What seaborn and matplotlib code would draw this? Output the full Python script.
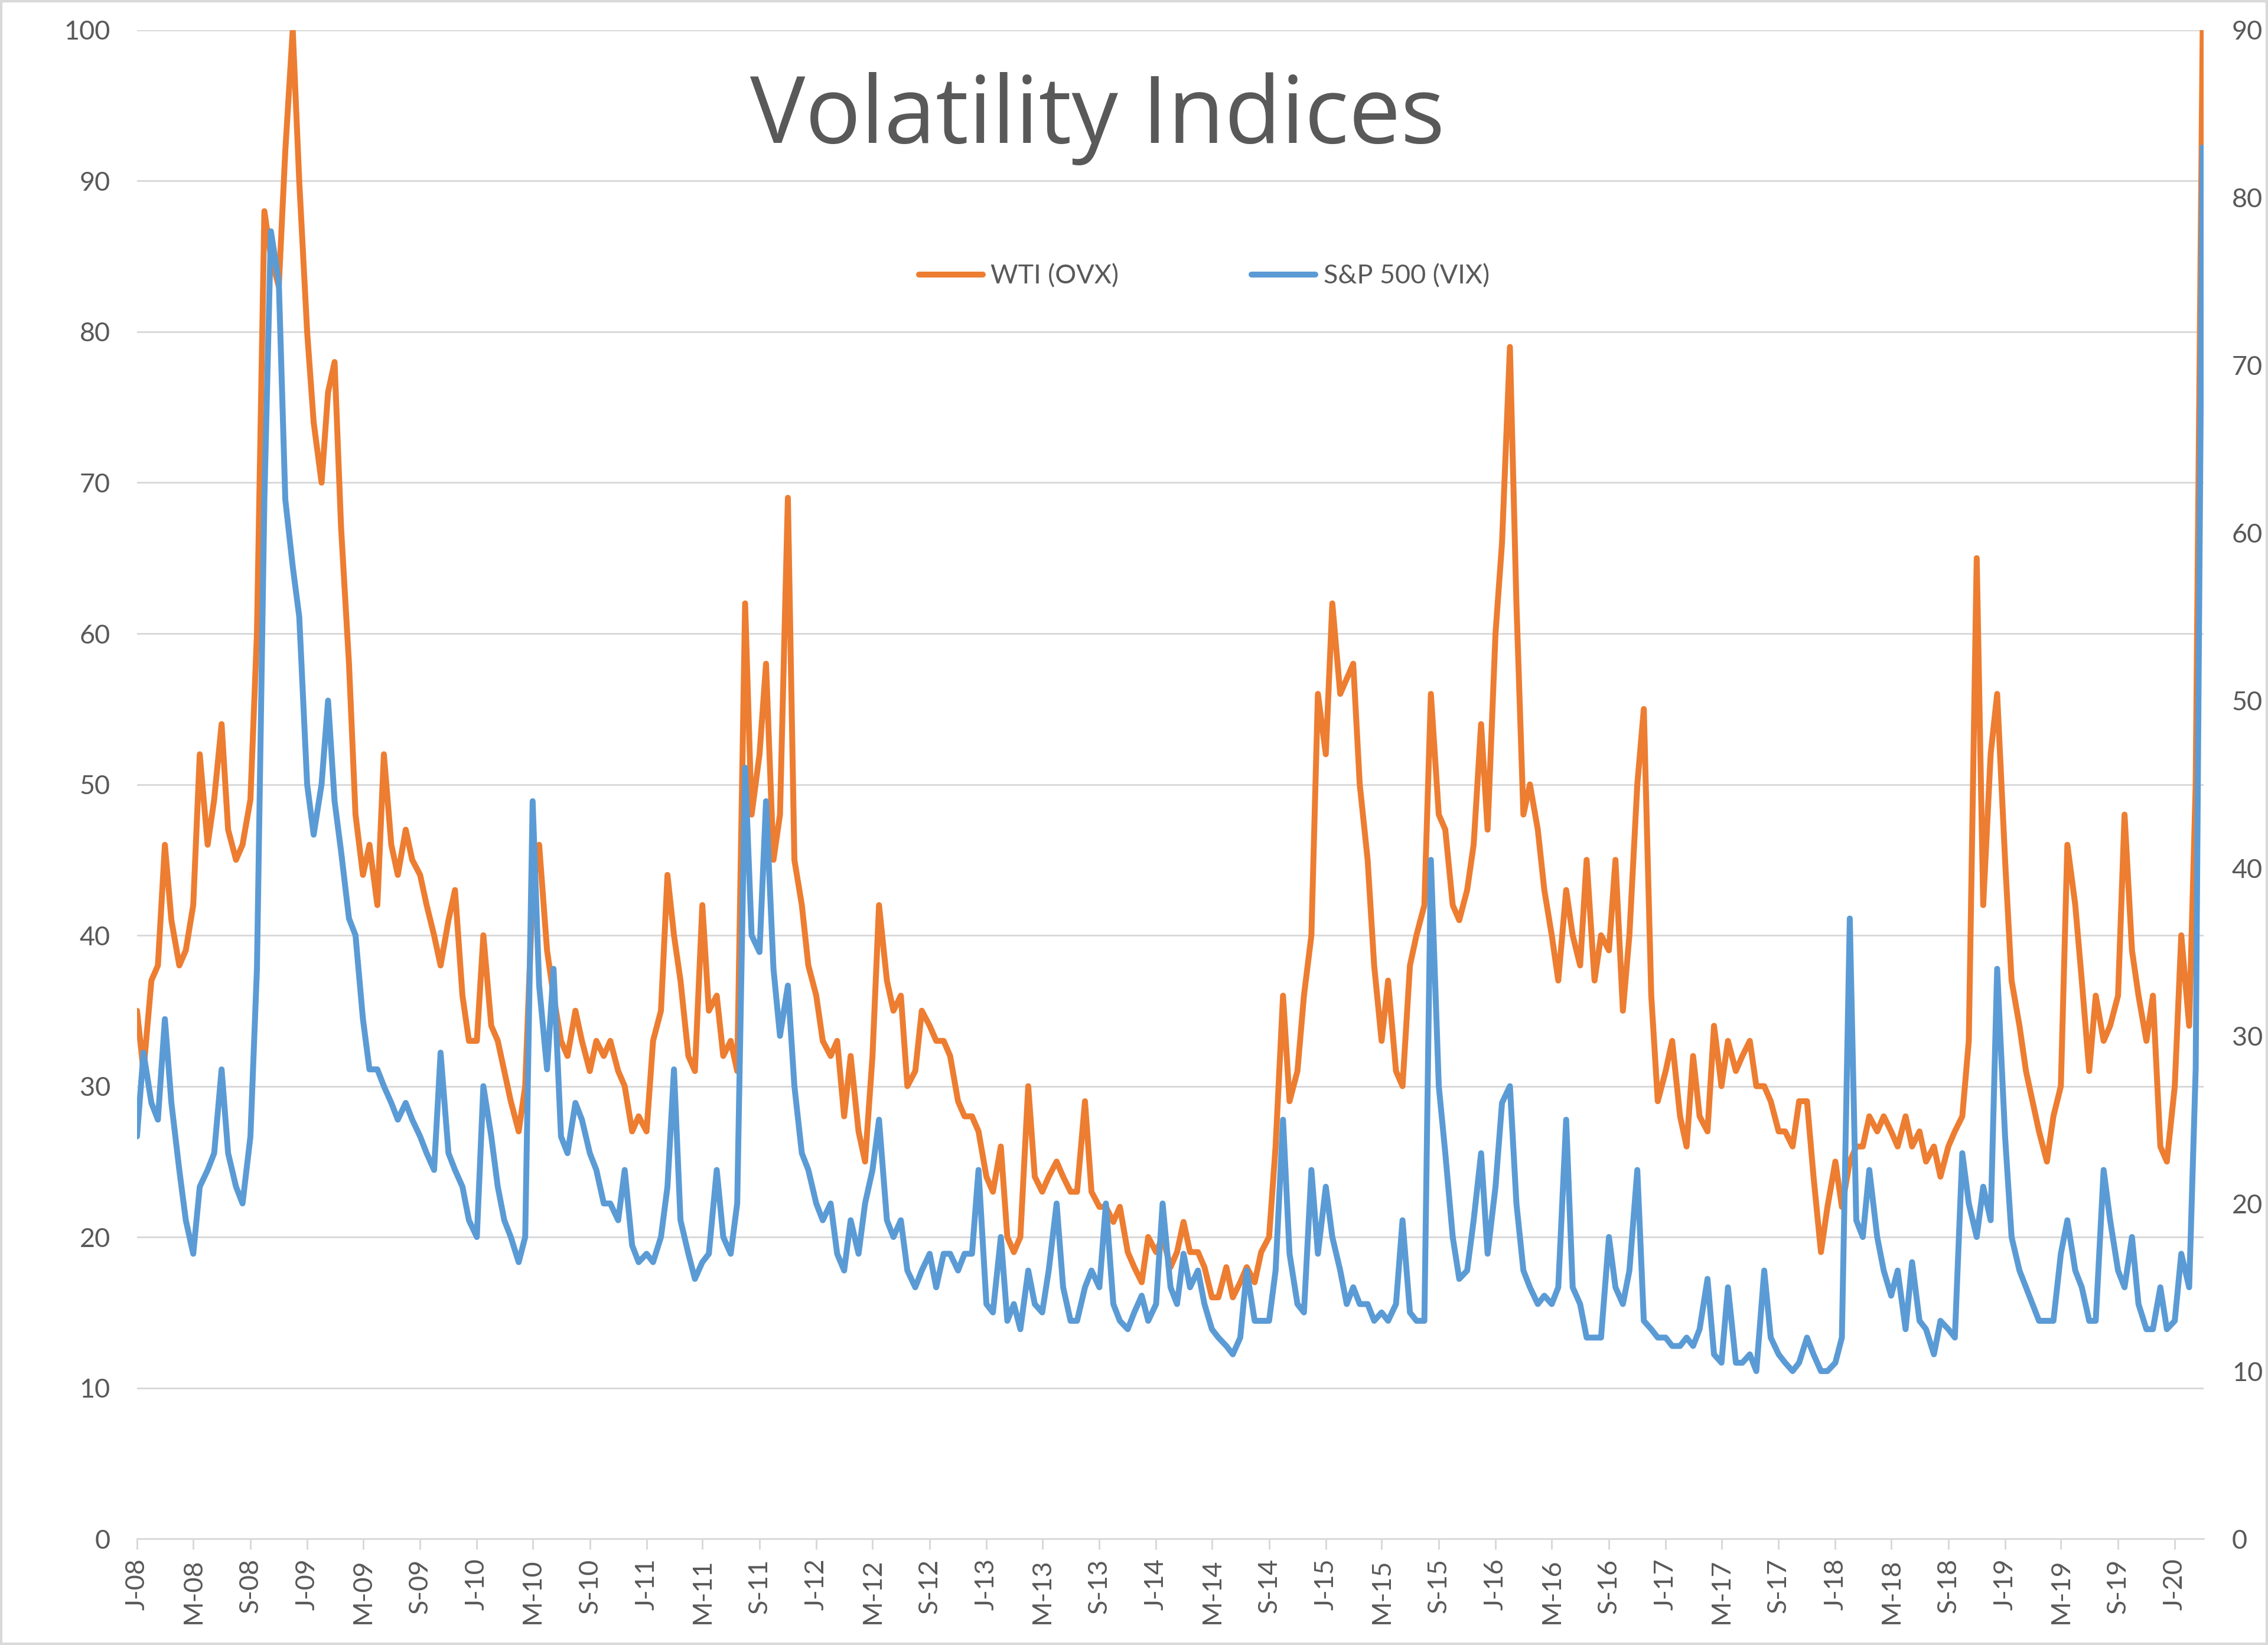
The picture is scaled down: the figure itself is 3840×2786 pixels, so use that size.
import pandas as pd
import matplotlib
matplotlib.use("Agg")
import matplotlib.pyplot as plt
from matplotlib.patches import Rectangle
import seaborn as sns

# semi-monthly readings (1st and 15th of each month), Jan 2008 .. Mar 2020
dates = pd.date_range("2008-01-01", "2020-03-01", freq="SMS")

# WTI crude oil volatility (OVX), left axis
ovx = [
    35, 31, 37, 38, 46, 41, 38, 39, 42, 52, 46, 49, 54, 47, 45, 46, 49, 60, 88, 85, 83, 92, 100, 90,  # 2008
    80, 74, 70, 76, 78, 67, 58, 48, 44, 46, 42, 52, 46, 44, 47, 45, 44, 42, 40, 38, 41, 43, 36, 33,  # 2009
    33, 40, 34, 33, 31, 29, 27, 30, 43, 46, 39, 36, 33, 32, 35, 33, 31, 33, 32, 33, 31, 30, 27, 28,  # 2010
    27, 33, 35, 44, 40, 37, 32, 31, 42, 35, 36, 32, 33, 31, 62, 48, 52, 58, 45, 48, 69, 45, 42, 38,  # 2011
    36, 33, 32, 33, 28, 32, 27, 25, 32, 42, 37, 35, 36, 30, 31, 35, 34, 33, 33, 32, 29, 28, 28, 27,  # 2012
    24, 23, 26, 20, 19, 20, 30, 24, 23, 24, 25, 24, 23, 23, 29, 23, 22, 22, 21, 22, 19, 18, 17, 20,  # 2013
    19, 20, 18, 19, 21, 19, 19, 18, 16, 16, 18, 16, 17, 18, 17, 19, 20, 26, 36, 29, 31, 36, 40, 56,  # 2014
    52, 62, 56, 57, 58, 50, 45, 38, 33, 37, 31, 30, 38, 40, 42, 56, 48, 47, 42, 41, 43, 46, 54, 47,  # 2015
    60, 66, 79, 62, 48, 50, 47, 43, 40, 37, 43, 40, 38, 45, 37, 40, 39, 45, 35, 40, 50, 55, 36, 29,  # 2016
    31, 33, 28, 26, 32, 28, 27, 34, 30, 33, 31, 32, 33, 30, 30, 29, 27, 27, 26, 29, 29, 24, 19, 22,  # 2017
    25, 22, 25, 26, 26, 28, 27, 28, 27, 26, 28, 26, 27, 25, 26, 24, 26, 27, 28, 33, 65, 42, 52, 56,  # 2018
    45, 37, 34, 31, 29, 27, 25, 28, 30, 46, 42, 37, 31, 36, 33, 34, 36, 48, 39, 36, 33, 36, 26, 25,  # 2019
    30, 40, 34, 50, 100,                                                                              # 2020
]

# S&P 500 volatility (VIX), right axis
vix = [
    24, 29, 26, 25, 31, 26, 22, 19, 17, 21, 22, 23, 28, 23, 21, 20, 24, 34, 62, 78, 75, 62, 58, 55,  # 2008
    45, 42, 45, 50, 44, 41, 37, 36, 31, 28, 28, 27, 26, 25, 26, 25, 24, 23, 22, 29, 23, 22, 21, 19,  # 2009
    18, 27, 24, 21, 19, 18, 16.5, 18, 44, 33, 28, 34, 24, 23, 26, 25, 23, 22, 20, 20, 19, 22, 17.5, 16.5,  # 2010
    17, 16.5, 18, 21, 28, 19, 17, 15.5, 16.5, 17, 22, 18, 17, 20, 46, 36, 35, 44, 34, 30, 33, 27, 23, 22,  # 2011
    20, 19, 20, 17, 16, 19, 17, 20, 22, 25, 19, 18, 19, 16, 15, 16, 17, 15, 17, 17, 16, 17, 17, 22,  # 2012
    14, 13.5, 18, 13, 14, 12.5, 16, 14, 13.5, 16, 20, 15, 13, 13, 15, 16, 15, 20, 14, 13, 12.5, 13.5, 14.5, 13,  # 2013
    14, 20, 15, 14, 17, 15, 16, 14, 12.5, 12, 11.5, 11, 12, 16, 13, 13, 13, 16, 25, 17, 14, 13.5, 22, 17,  # 2014
    21, 18, 16, 14, 15, 14, 14, 13, 13.5, 13, 14, 19, 13.5, 13, 13, 40.5, 27, 23, 18, 15.5, 16, 19, 23, 17,  # 2015
    21, 26, 27, 20, 16, 15, 14, 14.5, 14, 15, 25, 15, 14, 12, 12, 12, 18, 15, 14, 16, 22, 13, 12.5, 12,  # 2016
    12, 11.5, 11.5, 12, 11.5, 12.5, 15.5, 11, 10.5, 15, 10.5, 10.5, 11, 10, 16, 12, 11, 10.5, 10, 10.5, 12, 11, 10, 10,  # 2017
    10.5, 12, 37, 19, 18, 22, 18, 16, 14.5, 16, 12.5, 16.5, 13, 12.5, 11, 13, 12.5, 12, 23, 20, 18, 21, 19, 34,  # 2018
    24, 18, 16, 15, 14, 13, 13, 13, 17, 19, 16, 15, 13, 13, 22, 19, 16, 15, 18, 14, 12.5, 12.5, 15, 12.5,  # 2019
    13, 17, 15, 28, 83,                                                                               # 2020
]

tick_dates = pd.date_range("2008-01-01", "2020-01-01", freq="4MS")
tick_labels = [d.strftime("%b")[0] + "-" + d.strftime("%y") for d in tick_dates]

orange = "#ED7D31"
blue = "#5B9BD5"
grey_txt = "#595959"
grey_line = "#D9D9D9"

sns.set_style("white")
plt.rcParams["font.family"] = ["Lato", "DejaVu Sans"]

fig = plt.figure(figsize=(16, 2786 / 240), dpi=240)
ax = fig.add_axes([0.0604, 0.0646, 0.9112, 0.9171])

sns.lineplot(x=dates, y=ovx, ax=ax, color=orange, linewidth=3.0, legend=False)
ax2 = ax.twinx()
sns.lineplot(x=dates, y=vix, ax=ax2, color=blue, linewidth=3.0, legend=False)

ax.set_ylim(0, 100)
ax2.set_ylim(0, 90)
ax.set_yticks(range(0, 101, 10))
ax2.set_yticks(range(0, 91, 10))
ax.set_xlim(dates[0], pd.Timestamp("2020-03-03"))

ax.set_xticks(tick_dates)
ax.set_xticklabels(tick_labels, rotation=90)
ax.set_xlabel("")
ax.set_ylabel("")
ax2.set_ylabel("")

#gridlines only from the left axis
ax.grid(axis="y", color=grey_line, linewidth=0.9)
ax.grid(axis="x", visible=False)
ax2.grid(False)
for s in ["top", "left", "right"]:
    ax.spines[s].set_visible(False)
for s in ax2.spines.values():
    s.set_visible(False)
ax.spines["bottom"].set_color(grey_line)
ax.spines["bottom"].set_linewidth(0.9)

ax.tick_params(axis="x", direction="out", length=5.5, width=0.9, color=grey_line,
               labelsize=13.5, labelcolor=grey_txt, pad=4.5, bottom=True)
ax.tick_params(axis="y", length=0, labelsize=13.5, labelcolor=grey_txt, pad=13.5)
ax2.tick_params(axis="y", length=0, labelsize=13.5, labelcolor=grey_txt, pad=14.4)

lines = [ax.get_lines()[0], ax2.get_lines()[0]]
fig.legend(lines, ["WTI (OVX)", "S&P 500 (VIX)"], loc="center", bbox_to_anchor=(0.531, 0.832),
           ncol=2, frameon=False, handlelength=2.4, handletextpad=0.3, columnspacing=5,
           fontsize=13.5, labelcolor=grey_txt)

fig.text(0.484, 0.928, "Volatility Indices", ha="center", va="center", fontsize=47,
         color=grey_txt, family=["Open Sans", "DejaVu Sans"])

#light border round the whole chart, like the spreadsheet export
fig.patches.append(Rectangle((0, 0), 1, 1, transform=fig.transFigure, fill=False,
                             edgecolor=grey_line, linewidth=2.5))

fig.savefig("out.png", dpi=240)
